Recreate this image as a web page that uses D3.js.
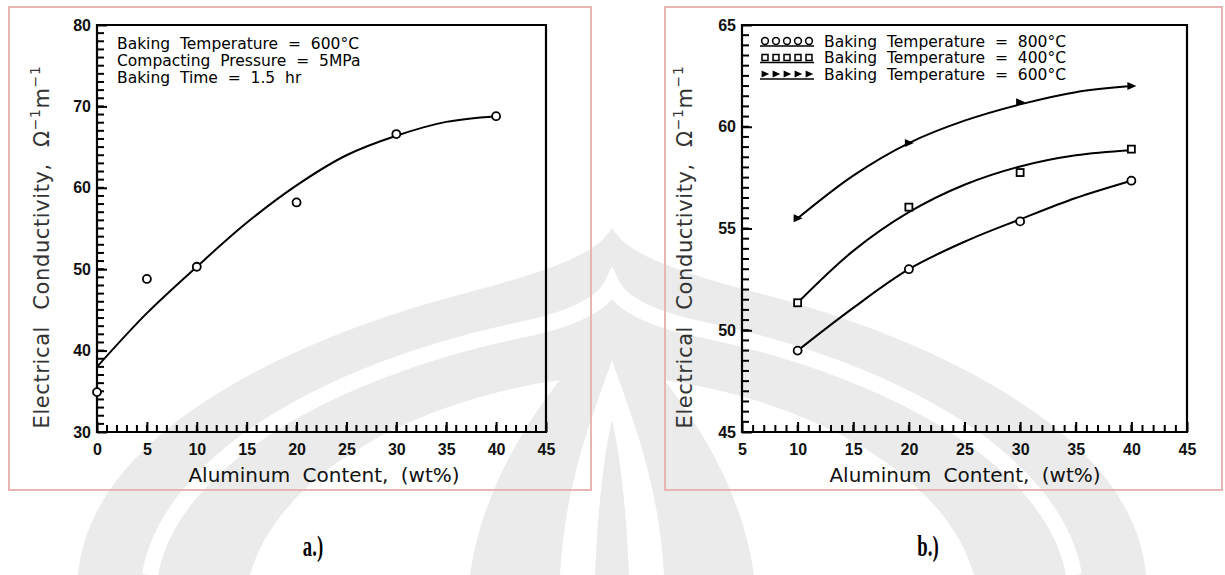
<!DOCTYPE html>
<html>
<head>
<meta charset="utf-8">
<script src="https://cdn.jsdelivr.net/npm/d3@7"></script>
<style>
  body { margin: 0; background: #fff; }
  svg { display: block; }
</style>
</head>
<body>
<svg width="1225" height="575" font-family="DejaVu Sans, sans-serif"></svg>
<script>
// ---- data ----
// panel a.) measured points
const alA = [0, 5, 10, 20, 30, 40];
const condA = [34.9, 48.8, 50.3, 58.2, 66.6, 68.8];
// panel a.) fitted curve
const fitXA = [0, 5, 10, 15, 20, 25, 30, 35, 40];
const fitYA = [38.0, 44.6, 50.3, 55.7, 60.3, 64.0, 66.4, 68.1, 68.8];

// panel b.) measured points
const alB = [10, 20, 30, 40];
const cond800 = [49.0, 53.0, 55.35, 57.35];
const cond400 = [51.35, 56.05, 57.75, 58.9];
const cond600 = [55.5, 59.2, 61.2, 62.0];
// panel b.) fitted curves
const fitXB = [10, 15, 20, 25, 30, 35, 40];
const fit800 = [49.0, 51.1, 53.0, 54.35, 55.45, 56.5, 57.35];
const fit400 = [51.35, 53.9, 55.8, 57.15, 58.05, 58.6, 58.85];
const fit600 = [55.5, 57.6, 59.2, 60.3, 61.1, 61.7, 62.0];

const xTicksA = [0, 5, 10, 15, 20, 25, 30, 35, 40, 45];
const yTicksA = [30, 40, 50, 60, 70, 80];
const xTicksB = [5, 10, 15, 20, 25, 30, 35, 40, 45];
const yTicksB = [45, 50, 55, 60, 65];

const notesA = ["Baking  Temperature  =  600°C", "Compacting  Pressure  =  5MPa", "Baking  Time  =  1.5  hr"];
const legendB = [
  {label: "Baking  Temperature  =  800°C", shape: "circle"},
  {label: "Baking  Temperature  =  400°C", shape: "square"},
  {label: "Baking  Temperature  =  600°C", shape: "triangle"}
];
const captions = ["a.)", "b.)"];

const svg = d3.select("svg");

// ---- faint watermark behind everything ----
let wm = svg.append("g").attr("class", "watermark");
wm.append("path")
  .attr("d", "M 78 575 C 90 430, 300 335, 470 292 C 560 268, 598 252, 612 228 C 626 252, 664 268, 754 292 C 924 335, 1134 430, 1146 575 Z")
  .attr("fill", "#ebebeb");
wm.append("path")
  .attr("d", "M 150 575 C 170 460, 330 370, 520 330 C 580 318, 605 300, 612 285 C 619 300, 644 318, 704 330 C 894 370, 1054 460, 1074 575")
  .attr("fill", "none").attr("stroke", "#fff").attr("stroke-width", 16);
wm.append("path")
  .attr("d", "M 250 575 C 280 470, 420 400, 560 380 C 520 430, 480 500, 470 575 Z")
  .attr("fill", "#fff");
wm.append("path")
  .attr("d", "M 974 575 C 944 470, 804 400, 664 380 C 704 430, 744 500, 754 575 Z")
  .attr("fill", "#fff");
wm.append("path")
  .attr("d", "M 560 575 C 565 480, 595 410, 612 360 C 629 410, 659 480, 664 575 Z")
  .attr("fill", "#fff");
wm.append("path")
  .attr("d", "M 595 575 C 598 500, 605 450, 612 420 C 619 450, 626 500, 629 575 Z")
  .attr("fill", "#ebebeb");

// pink frames
svg.append("rect").attr("x", 9).attr("y", 7).attr("width", 582).attr("height", 483)
  .attr("fill", "none").attr("stroke", "#e8b4b4").attr("stroke-width", 2);
svg.append("rect").attr("x", 665).attr("y", 7).attr("width", 557).attr("height", 483)
  .attr("fill", "none").attr("stroke", "#e8b4b4").attr("stroke-width", 2);

function drawAxes(g, x, y, xTicks, yTicks, yMinorStep){
  let [x0, x1] = x.range(), [y0, y1] = y.range();
  // minor ticks, pointing into the plot
  g.append("g").selectAll("line")
    .data(d3.range(x.domain()[0], x.domain()[1] + 0.01, 1)).enter().append("line")
    .attr("x1", d => x(d)).attr("x2", d => x(d))
    .attr("y1", y0).attr("y2", y0 - 7)
    .attr("stroke", "#000").attr("stroke-width", 2);
  g.append("g").selectAll("line")
    .data(d3.range(y.domain()[0], y.domain()[1] + 0.01, yMinorStep)).enter().append("line")
    .attr("y1", d => y(d)).attr("y2", d => y(d))
    .attr("x1", x0).attr("x2", x0 + 7)
    .attr("stroke", "#000").attr("stroke-width", 2);
  // major ticks + labels
  g.append("g").attr("transform", `translate(0,${y0})`)
    .call(d3.axisBottom(x).tickValues(xTicks).tickSize(-10).tickPadding(12))
    .call(a => a.select(".domain").remove())
    .call(a => a.selectAll("line").attr("stroke", "#000").attr("stroke-width", 2))
    .call(a => a.selectAll("text").attr("font-size", 16).attr("font-weight", "bold").attr("fill", "#111"));
  g.append("g").attr("transform", `translate(${x0},0)`)
    .call(d3.axisLeft(y).tickValues(yTicks).tickSize(-10).tickPadding(6))
    .call(a => a.select(".domain").remove())
    .call(a => a.selectAll("line").attr("stroke", "#000").attr("stroke-width", 2))
    .call(a => a.selectAll("text").attr("font-size", 16).attr("font-weight", "bold").attr("fill", "#111"));
  // box
  g.append("path")
    .attr("d", `M${x0},${y1} V${y0} H${x1} V${y1} Z`)
    .attr("fill", "none").attr("stroke", "#000").attr("stroke-width", 2.2);
}

function yTitle(g, cx, cy){
  let t = g.append("text")
    .attr("transform", `translate(${cx},${cy}) rotate(-90)`)
    .attr("text-anchor", "middle")
    .attr("font-size", 21).attr("fill", "#333")
    .attr("word-spacing", 9).attr("letter-spacing", 0.6);
  t.append("tspan").text("Electrical Conductivity, Ω");
  t.append("tspan").attr("dy", -9).attr("font-size", 14).text("−1");
  t.append("tspan").attr("dy", 9).text("m");
  t.append("tspan").attr("dy", -9).attr("font-size", 14).text("−1");
}

function xTitle(g, cx, cy){
  g.append("text").attr("x", cx).attr("y", cy)
    .attr("text-anchor", "middle").attr("font-size", 20).attr("fill", "#111")
    .attr("word-spacing", 6)
    .text("Aluminum Content, (wt%)");
}

const line = (x, y) => d3.line().x(d => x(d[0])).y(d => y(d[1])).curve(d3.curveCatmullRom.alpha(0.5));

// ---- panel a.) ----
{
  const x = d3.scaleLinear().domain([0, 45]).range([97, 546]);
  const y = d3.scaleLinear().domain([30, 80]).range([432, 25]);
  const g = svg.append("g");
  drawAxes(g, x, y, xTicksA, yTicksA, 1);

  g.append("path").datum(d3.zip(fitXA, fitYA))
    .attr("d", line(x, y)).attr("fill", "none").attr("stroke", "#000").attr("stroke-width", 2);

  g.selectAll("circle.pt").data(d3.zip(alA, condA)).enter().append("circle")
    .attr("cx", d => x(d[0])).attr("cy", d => y(d[1])).attr("r", 4)
    .attr("fill", "#fff").attr("stroke", "#000").attr("stroke-width", 1.8);

  g.selectAll("text.note").data(notesA).enter().append("text")
    .attr("x", 117).attr("y", (d, i) => 49 + i * 16.8)
    .attr("font-size", 15.5).attr("fill", "#000")
    .style("white-space", "pre")
    .text(d => d);

  yTitle(g, 49, 247);
  xTitle(g, 324, 482);
}

// ---- panel b.) ----
function marker(sel, shape){
  if (shape === "circle") {
    sel.append("circle").attr("r", 4).attr("fill", "#fff").attr("stroke", "#000").attr("stroke-width", 1.8);
  } else if (shape === "square") {
    sel.append("rect").attr("x", -3.5).attr("y", -3.5).attr("width", 7).attr("height", 7)
      .attr("fill", "#fff").attr("stroke", "#000").attr("stroke-width", 1.8);
  } else {
    sel.append("path").attr("d", "M-4,-4 L5,0 L-4,4 Z").attr("fill", "#000");
  }
}

{
  const x = d3.scaleLinear().domain([5, 45]).range([742, 1187]);
  const y = d3.scaleLinear().domain([45, 65]).range([432, 25]);
  const g = svg.append("g");
  drawAxes(g, x, y, xTicksB, yTicksB, 0.5);

  const series = [
    {fit: fit800, pts: cond800, shape: "circle"},
    {fit: fit400, pts: cond400, shape: "square"},
    {fit: fit600, pts: cond600, shape: "triangle"}
  ];
  series.forEach(s => {
    g.append("path").datum(d3.zip(fitXB, s.fit))
      .attr("d", line(x, y)).attr("fill", "none").attr("stroke", "#000").attr("stroke-width", 2);
    g.selectAll(null).data(d3.zip(alB, s.pts)).enter().append("g")
      .attr("transform", d => `translate(${x(d[0])},${y(d[1])})`)
      .each(function(){ marker(d3.select(this), s.shape); });
  });

  // legend
  const lg = g.selectAll("g.leg").data(legendB).enter().append("g")
    .attr("transform", (d, i) => `translate(762,${41 + i * 16.5})`);
  lg.each(function(d){
    const el = d3.select(this);
    el.append("line").attr("x1", -2).attr("x2", 52).attr("y1", 5).attr("y2", 5)
      .attr("stroke", "#000").attr("stroke-width", 1.6);
    d3.range(5).forEach(k => {
      const m = el.append("g").attr("transform", `translate(${3 + k * 11},0) scale(0.85)`);
      marker(m, d.shape);
    });
  });
  lg.append("text").attr("x", 62).attr("y", 5.5)
    .attr("font-size", 15.5).attr("fill", "#000")
    .style("white-space", "pre")
    .text(d => d.label);

  yTitle(g, 692, 247);
  xTitle(g, 965, 482);
}

// panel captions, narrow bold serif
const capX = [313, 928];
captions.forEach((t, i) => {
  svg.append("g").attr("transform", `translate(${capX[i]},556) scale(0.78,1.2)`)
    .append("text").attr("text-anchor", "middle")
    .style("font-family", "'Liberation Serif', serif").attr("font-weight", "bold").attr("font-size", 24)
    .text(t);
});
</script>
</body>
</html>
